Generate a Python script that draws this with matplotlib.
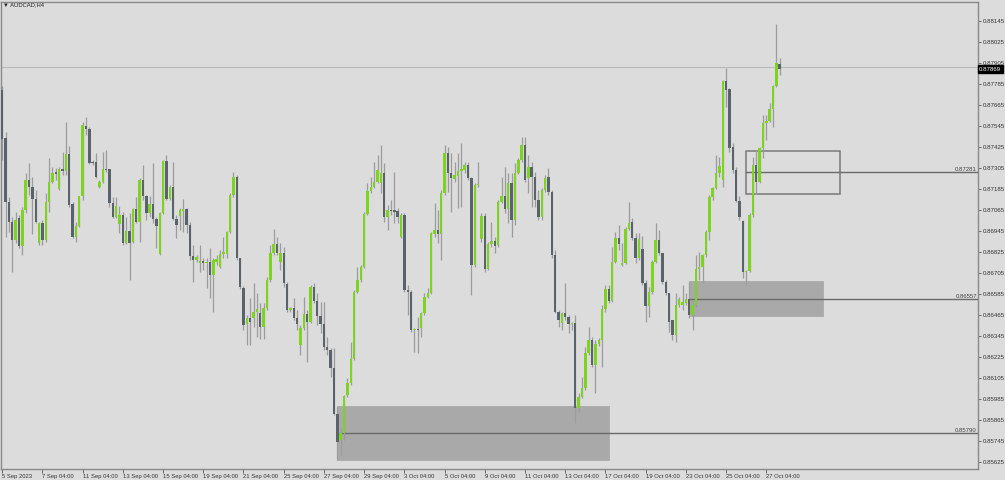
import matplotlib
matplotlib.use("Agg")
import matplotlib.pyplot as plt
from matplotlib.patches import Rectangle
from matplotlib.transforms import blended_transform_factory
import numpy as np

plt.rcParams["font.family"] = ["Liberation Sans", "DejaVu Sans"]

symbol = "AUDCAD,H4"

opens = [0.87751, 0.87476, 0.87111, 0.86996, 0.86894, 0.87019, 0.86859, 0.87065, 0.87236, 0.87196,
         0.87128, 0.86876, 0.86991, 0.86894, 0.87111, 0.87225, 0.87282, 0.87185, 0.87299, 0.87288,
         0.87385, 0.87099, 0.86911, 0.86974, 0.87145, 0.87545, 0.87528, 0.87339, 0.87339, 0.87196,
         0.87225, 0.87299, 0.87299, 0.87105, 0.87025, 0.86985, 0.87036, 0.86876, 0.86945, 0.86882,
         0.87071, 0.86996, 0.87236, 0.87145, 0.87048, 0.87099, 0.87014, 0.86814, 0.87048, 0.87345,
         0.87128, 0.87196, 0.87014, 0.87031, 0.87059, 0.87071, 0.86979, 0.86802, 0.86779, 0.86762,
         0.86774, 0.86762, 0.86768, 0.86694, 0.86768, 0.86739, 0.86814, 0.86814, 0.86939, 0.87151,
         0.87254, 0.86791, 0.86619, 0.86414, 0.86448, 0.86448, 0.86482, 0.86477, 0.86397, 0.86505,
         0.86665, 0.86819, 0.86871, 0.86768, 0.86819, 0.86642, 0.86494, 0.86505, 0.86448, 0.86294,
         0.86391, 0.86471, 0.86425, 0.86625, 0.86545, 0.86459, 0.86414, 0.86282, 0.86265, 0.86162,
         0.85899, 0.85751, 0.85791, 0.86008, 0.86076, 0.86214, 0.86596, 0.86665, 0.86739, 0.87042,
         0.87174, 0.87196, 0.87225, 0.87219, 0.87276, 0.87025, 0.87065, 0.87065, 0.87059, 0.86911,
         0.87036, 0.86608, 0.86596, 0.86379, 0.86385, 0.86391, 0.86477, 0.86568, 0.86591, 0.86928,
         0.86951, 0.86928, 0.87162, 0.87391, 0.87276, 0.87242, 0.87259, 0.87288, 0.87294, 0.87322,
         0.87248, 0.86751, 0.87208, 0.86899, 0.87031, 0.86728, 0.86871, 0.86888, 0.86865, 0.87111,
         0.87145, 0.87071, 0.87219, 0.87008, 0.87276, 0.87351, 0.87436, 0.87248, 0.87311, 0.87254,
         0.87122, 0.87025, 0.87179, 0.87254, 0.87168, 0.86808, 0.86482, 0.86419, 0.86477, 0.86453,
         0.86414, 0.86419, 0.85934, 0.85996, 0.86048, 0.86248, 0.86322, 0.86179, 0.86299, 0.86322,
         0.86499, 0.86613, 0.86545, 0.86768, 0.86905, 0.86751, 0.86762, 0.86956, 0.86996, 0.86905,
         0.86791, 0.86842, 0.86648, 0.86516, 0.86596, 0.86768, 0.86894, 0.86819, 0.86654, 0.86591,
         0.86436, 0.86351, 0.86522, 0.86522, 0.86534, 0.86556, 0.86465, 0.86522, 0.86728, 0.86739,
         0.86808, 0.86939, 0.87139, 0.87191, 0.87276, 0.87236, 0.87802, 0.87757, 0.87425, 0.87294,
         0.87117, 0.87002, 0.86711, 0.86716, 0.87036, 0.87322, 0.87225, 0.87419, 0.87562, 0.87574,
         0.87642, 0.87774, 0.87899]

highs = [0.87774, 0.87511, 0.87139, 0.87025, 0.87054, 0.87036, 0.87082, 0.87276, 0.87334, 0.87254,
         0.87179, 0.86996, 0.87008, 0.87162, 0.87362, 0.87311, 0.87305, 0.87311, 0.87396, 0.87568,
         0.87431, 0.87111, 0.86996, 0.87139, 0.87568, 0.87596, 0.87539, 0.87351, 0.87391, 0.87236,
         0.87396, 0.87408, 0.87299, 0.87139, 0.87139, 0.87088, 0.87054, 0.87025, 0.87048, 0.87076,
         0.87139, 0.87248, 0.87322, 0.87151, 0.87145, 0.87334, 0.87025, 0.87054, 0.87351, 0.87379,
         0.87208, 0.87339, 0.87036, 0.87076, 0.87128, 0.87076, 0.86996, 0.86865, 0.86808, 0.86865,
         0.86791, 0.86791, 0.86848, 0.86791, 0.86808, 0.86836, 0.86911, 0.86945, 0.87162, 0.87282,
         0.87265, 0.86791, 0.86631, 0.86465, 0.86562, 0.86648, 0.86591, 0.86534, 0.86534, 0.86682,
         0.86865, 0.86956, 0.86911, 0.86876, 0.86854, 0.86654, 0.86511, 0.86562, 0.86494, 0.86408,
         0.86568, 0.86494, 0.86636, 0.86648, 0.86591, 0.86539, 0.86539, 0.86339, 0.86276, 0.86276,
         0.85939, 0.85819, 0.86008, 0.86105, 0.86311, 0.86608, 0.86739, 0.86751, 0.87054, 0.87219,
         0.87254, 0.87339, 0.87379, 0.87436, 0.87334, 0.87094, 0.87122, 0.87282, 0.87076, 0.87048,
         0.87048, 0.86636, 0.86608, 0.86391, 0.86453, 0.86482, 0.86591, 0.86619, 0.86939, 0.87105,
         0.87065, 0.87179, 0.87436, 0.87425, 0.87391, 0.87339, 0.87391, 0.87448, 0.87339, 0.87339,
         0.87254, 0.87219, 0.87339, 0.87048, 0.87048, 0.86882, 0.86996, 0.86911, 0.87122, 0.87254,
         0.87311, 0.87276, 0.87276, 0.87334, 0.87362, 0.87482, 0.87482, 0.87379, 0.87339, 0.87282,
         0.87179, 0.87191, 0.87265, 0.87305, 0.87179, 0.86836, 0.86494, 0.86482, 0.86648, 0.86465,
         0.86425, 0.86465, 0.86019, 0.86111, 0.86282, 0.86397, 0.86339, 0.86322, 0.86334, 0.86522,
         0.86636, 0.86636, 0.86854, 0.86939, 0.86979, 0.86876, 0.86968, 0.87111, 0.87019, 0.86934,
         0.86934, 0.86916, 0.86665, 0.86625, 0.86779, 0.86991, 0.86951, 0.86819, 0.86665, 0.86591,
         0.86436, 0.86591, 0.86568, 0.86636, 0.86591, 0.86654, 0.86551, 0.86808, 0.86825, 0.86814,
         0.86951, 0.87151, 0.87196, 0.87379, 0.87368, 0.87808, 0.87876, 0.87762, 0.87448, 0.87311,
         0.87145, 0.87008, 0.86722, 0.87048, 0.87368, 0.87408, 0.87425, 0.87608, 0.87608, 0.87676,
         0.87779, 0.88128, 0.87934]

lows = [0.87351, 0.86911, 0.86939, 0.86711, 0.86876, 0.86848, 0.86808, 0.87048, 0.87151, 0.86928,
        0.86991, 0.86865, 0.86865, 0.86882, 0.87054, 0.87219, 0.87236, 0.87179, 0.87265, 0.87265,
        0.87082, 0.86905, 0.86882, 0.86968, 0.87122, 0.87494, 0.87328, 0.87322, 0.87248, 0.87191,
        0.87219, 0.87282, 0.87082, 0.87019, 0.87019, 0.86934, 0.86865, 0.86871, 0.86665, 0.86876,
        0.86991, 0.86882, 0.87122, 0.87008, 0.87025, 0.86991, 0.86848, 0.86808, 0.87042, 0.87122,
        0.87122, 0.87008, 0.86905, 0.86951, 0.86939, 0.86934, 0.86779, 0.86654, 0.86768, 0.86711,
        0.86722, 0.86619, 0.86562, 0.86482, 0.86751, 0.86734, 0.86791, 0.86791, 0.86934, 0.87139,
        0.86779, 0.86613, 0.86379, 0.86294, 0.86294, 0.86397, 0.86339, 0.86328, 0.86328, 0.86494,
        0.86654, 0.86808, 0.86808, 0.86722, 0.86625, 0.86482, 0.86482, 0.86436, 0.86379, 0.86236,
        0.86379, 0.86196, 0.86419, 0.86534, 0.86408, 0.86362, 0.86265, 0.86236, 0.86111, 0.85894,
        0.85636, 0.85665, 0.85751, 0.85996, 0.86065, 0.86208, 0.86591, 0.86654, 0.86734, 0.87036,
        0.87162, 0.87191, 0.87219, 0.87162, 0.86996, 0.86951, 0.87036, 0.86991, 0.86991, 0.86905,
        0.86596, 0.86465, 0.86368, 0.86254, 0.86248, 0.86339, 0.86465, 0.86562, 0.86585, 0.86911,
        0.86876, 0.86779, 0.87151, 0.87168, 0.87054, 0.87225, 0.87076, 0.87082, 0.87276, 0.87236,
        0.86579, 0.86739, 0.87196, 0.86882, 0.86711, 0.86722, 0.86854, 0.86819, 0.86854, 0.87105,
        0.87048, 0.86991, 0.86911, 0.86979, 0.87271, 0.87339, 0.87225, 0.87162, 0.87082, 0.87082,
        0.87008, 0.87008, 0.87168, 0.87151, 0.86791, 0.86477, 0.86397, 0.86379, 0.86436, 0.86362,
        0.86379, 0.85848, 0.85911, 0.85991, 0.86036, 0.86236, 0.86168, 0.86019, 0.86288, 0.86168,
        0.86482, 0.86534, 0.86539, 0.86762, 0.86836, 0.86745, 0.86756, 0.86951, 0.86894, 0.86762,
        0.86779, 0.86636, 0.86425, 0.86453, 0.86585, 0.86762, 0.86808, 0.86642, 0.86579, 0.86368,
        0.86322, 0.86311, 0.86511, 0.86494, 0.86522, 0.86448, 0.86379, 0.86511, 0.86665, 0.86648,
        0.86796, 0.86894, 0.87122, 0.87185, 0.87254, 0.87196, 0.87654, 0.87396, 0.87276, 0.87111,
        0.87008, 0.86676, 0.86636, 0.86711, 0.87025, 0.87156, 0.87219, 0.87362, 0.87465, 0.87568,
        0.87539, 0.87768, 0.87836]

closes = [0.87471, 0.87111, 0.86996, 0.86894, 0.87008, 0.86859, 0.87065, 0.87236, 0.87196, 0.87128,
          0.86996, 0.86991, 0.86894, 0.87111, 0.87225, 0.87276, 0.87271, 0.87299, 0.87288, 0.87385,
          0.87094, 0.86911, 0.86974, 0.87145, 0.87551, 0.87528, 0.87334, 0.87334, 0.87254, 0.87225,
          0.87299, 0.87294, 0.87105, 0.87025, 0.87088, 0.87036, 0.86876, 0.86945, 0.86876, 0.87071,
          0.86996, 0.87236, 0.87145, 0.87048, 0.87099, 0.87014, 0.86974, 0.87048, 0.87345, 0.87128,
          0.87196, 0.87014, 0.86979, 0.87065, 0.87071, 0.86979, 0.86802, 0.86779, 0.86796, 0.86774,
          0.86762, 0.86768, 0.86694, 0.86779, 0.86785, 0.86814, 0.86825, 0.86939, 0.87151, 0.87254,
          0.86791, 0.86625, 0.86408, 0.86448, 0.86425, 0.86482, 0.86499, 0.86397, 0.86505, 0.86665,
          0.86819, 0.86871, 0.86819, 0.86819, 0.86648, 0.86494, 0.86505, 0.86448, 0.86414, 0.86391,
          0.86471, 0.86425, 0.86625, 0.86545, 0.86459, 0.86414, 0.86282, 0.86265, 0.86162, 0.85899,
          0.85739, 0.85791, 0.86002, 0.86076, 0.86214, 0.86596, 0.86665, 0.86739, 0.87042, 0.87174,
          0.87196, 0.87225, 0.87294, 0.87276, 0.87025, 0.87065, 0.87059, 0.87054, 0.87025, 0.87036,
          0.86608, 0.86596, 0.86379, 0.86385, 0.86379, 0.86477, 0.86568, 0.86591, 0.86934, 0.86951,
          0.86928, 0.87162, 0.87391, 0.87276, 0.87248, 0.87265, 0.87288, 0.87299, 0.87322, 0.87248,
          0.86751, 0.87208, 0.87214, 0.87031, 0.86728, 0.86871, 0.86888, 0.86859, 0.87111, 0.87145,
          0.87071, 0.87219, 0.87008, 0.87276, 0.87351, 0.87436, 0.87236, 0.87311, 0.87254, 0.87122,
          0.87025, 0.87179, 0.87248, 0.87168, 0.86808, 0.86482, 0.86436, 0.86477, 0.86453, 0.86414,
          0.86419, 0.85934, 0.85996, 0.86048, 0.86248, 0.86322, 0.86179, 0.86299, 0.86322, 0.86499,
          0.86613, 0.86545, 0.86768, 0.86905, 0.86871, 0.86762, 0.86956, 0.86991, 0.86905, 0.86791,
          0.86899, 0.86648, 0.86516, 0.86596, 0.86768, 0.86894, 0.86819, 0.86654, 0.86591, 0.86425,
          0.86351, 0.86522, 0.86556, 0.86539, 0.86556, 0.86465, 0.86522, 0.86728, 0.86739, 0.86808,
          0.86939, 0.87139, 0.87191, 0.87276, 0.87316, 0.87802, 0.87751, 0.87419, 0.87294, 0.87117,
          0.87025, 0.86711, 0.86716, 0.87036, 0.87322, 0.87225, 0.87419, 0.87562, 0.87574, 0.87642,
          0.87774, 0.87905, 0.87869]

date_labels = ["5 Sep 2023", "7 Sep 04:00", "11 Sep 04:00", "13 Sep 04:00", "15 Sep 04:00",
               "19 Sep 04:00", "21 Sep 04:00", "25 Sep 04:00", "27 Sep 04:00", "29 Sep 04:00",
               "3 Oct 04:00", "5 Oct 04:00", "9 Oct 04:00", "11 Oct 04:00", "13 Oct 04:00",
               "17 Oct 04:00", "19 Oct 04:00", "23 Oct 04:00", "25 Oct 04:00", "27 Oct 04:00"]
bars_per_label = 12

price_ticks = [0.88145, 0.88025, 0.87905, 0.87785, 0.87665, 0.87545, 0.87425, 0.87305, 0.87185,
               0.87065, 0.86945, 0.86825, 0.86705, 0.86585, 0.86465, 0.86345, 0.86225, 0.86105,
               0.85985, 0.85865, 0.85745, 0.85625]

# zones: level line, box top / bottom, start & end bar, filled or outline
zone_levels = [0.85790, 0.86557, 0.87281]
zone_tops = [0.85947, 0.86657, 0.87405]
zone_bottoms = [0.85639, 0.86461, 0.87156]
zone_starts = [100, 205, 222]
zone_ends = [181, 245, 250]
zone_filled = [True, True, False]

current_price = 0.87869
price_line = 0.87884

# ---------------------------------------------------------------
BG = "#dcdcdc"
BULL = "#7ed321"
BEAR = "#5a636c"
WICK = "#9c9c9c"

W, H = 1005, 480
fig = plt.figure(figsize=(W / 100, H / 100), dpi=100, facecolor=BG)
ax = fig.add_axes([0.5 / W, 1 - 469 / H, 977.5 / W, 467 / H])
ax.set_facecolor(BG)

o = np.array(opens); h = np.array(highs); l = np.array(lows); c = np.array(closes)
x = np.arange(len(o))
n_visible = 291.17
ax.set_xlim(-0.507, n_visible)
ax.set_ylim(0.85585, 0.882536)

# zones
for lvl, top, bot, s, e, filled in zip(zone_levels, zone_tops, zone_bottoms,
                                        zone_starts, zone_ends, zone_filled):
    if filled:
        ax.add_patch(Rectangle((s, bot), e - s, top - bot, facecolor="#a9a9a9",
                               edgecolor="#a9a9a9", lw=0.6, zorder=1))
    else:
        ax.add_patch(Rectangle((s, bot), e - s, top - bot, facecolor="none",
                               edgecolor="#7a7a7a", lw=1.1, zorder=1))
    ax.plot([s, n_visible], [lvl, lvl], color="#6a6a6a", lw=1.0, zorder=1.5)
    ax.text(n_visible - 0.3, lvl + 0.00002, f"{lvl:.5f}", ha="right", va="bottom",
            fontsize=4.3, color="#444444", zorder=6)

# current price line
ax.axhline(price_line, color="#b9b9b9", lw=0.8, zorder=0.8)

# candles
bull = c >= o
colors = np.where(bull, BULL, BEAR)
ax.vlines(x, l, h, color=WICK, lw=0.9, zorder=2)
body_h = np.maximum(np.abs(c - o), 0.00003)
ax.bar(x, body_h, bottom=np.minimum(o, c), width=0.72, color=colors,
       linewidth=0, zorder=3)

# axes styling
for side in ["top", "right", "bottom", "left"]:
    ax.spines[side].set_color("#8a8a8a")
    ax.spines[side].set_linewidth(1.0)

ax.yaxis.tick_right()
ax.set_yticks(price_ticks)
ax.set_yticklabels([f"{p:.5f}" for p in price_ticks])
ax.tick_params(axis="y", which="both", length=2.5, width=0.6, color="#555555",
               labelsize=4.4, labelcolor="#333333", pad=0.8)

xt = [i * bars_per_label for i in range(len(date_labels))]
ax.set_xticks(xt)
ax.set_xticklabels(date_labels)
ax.tick_params(axis="x", length=3, width=0.6, color="#555555", labelsize=4.2,
               labelcolor="#333333", pad=0.8)
for lbl in ax.get_xticklabels():
    lbl.set_horizontalalignment("left")

# current price tag on the axis
tr = blended_transform_factory(ax.transAxes, ax.transData)
ax.text(1.0012, current_price, f"{current_price:.5f}", transform=tr, ha="left",
        va="center", fontsize=4.4, color="white", zorder=10, clip_on=False,
        bbox=dict(boxstyle="square,pad=0.22", fc="black", ec="black"))

# title
fig.text(3 / W, 1 - 5 / H, "\u25bc " + symbol, fontsize=4.2, color="#222222",
         ha="left", va="center")

fig.savefig("out.png", dpi=100, facecolor=BG)
